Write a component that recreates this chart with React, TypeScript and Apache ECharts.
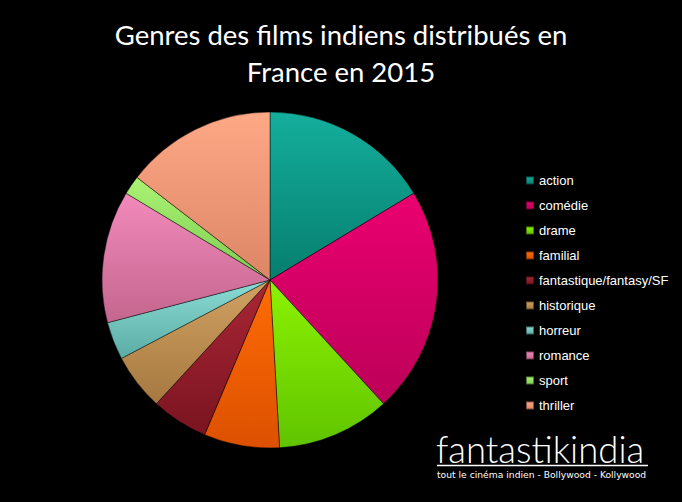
import React, { useEffect, useRef } from "react";
import * as echarts from "echarts";

const categories = [
  "action",
  "comédie",
  "drame",
  "familial",
  "fantastique/fantasy/SF",
  "historique",
  "horreur",
  "romance",
  "sport",
  "thriller",
];
const filmCounts = [9, 12, 6, 4, 3, 3, 2, 7, 1, 8];
const topColors = ["#14ae9c", "#ea0070", "#8cf200", "#ff6c06", "#aa2636", "#d2a262", "#8cdcd6", "#f28abb", "#aaf274", "#ffa886"];
const bottomColors = ["#067e6e", "#bc0058", "#60c400", "#dc5000", "#7a1420", "#a47840", "#5cacA6", "#c4668e", "#7ccc50", "#dc8666"];

const titleText = "Genres des films indiens distribués en\nFrance en 2015";

export default function App() {
  const ref = useRef<HTMLDivElement>(null);
  useEffect(() => {
    document.body.style.margin = "0";
    document.body.style.background = "#000";
    const chart = echarts.init(ref.current!, null, { renderer: "svg" });
    const data = categories.map((name, i) => ({
      name,
      value: filmCounts[i],
      itemStyle: {
        color: new echarts.graphic.LinearGradient(0, 0, 0, 1, [
          { offset: 0, color: topColors[i] },
          { offset: 1, color: bottomColors[i] },
        ]),
      },
    }));
    chart.setOption({
      animation: false,
      backgroundColor: "#000",
      title: {
        text: titleText,
        left: "center",
        top: 16,
        padding: 0,
        textStyle: {
          color: "#fff",
          fontFamily: "Lato",
          fontWeight: "normal",
          fontSize: 27.5,
          lineHeight: 37,
        },
      },
      legend: {
        orient: "vertical",
        left: 525,
        top: 173,
        padding: 0,
        icon: "rect",
        itemWidth: 8,
        itemHeight: 8,
        itemGap: 10,
        textStyle: {
          color: "#fff",
          fontFamily: "Liberation Sans",
          fontSize: 13,
          lineHeight: 15,
        },
        data: categories,
      },
      series: [
        {
          type: "pie",
          center: [270, 280],
          radius: 168,
          startAngle: 90,
          clockwise: true,
          label: { show: false },
          labelLine: { show: false },
          emphasis: { disabled: true },
          itemStyle: { borderColor: "rgba(0,0,0,0.45)", borderWidth: 1 },
          data,
        },
      ],
      graphic: [
        {
          type: "text",
          left: 436,
          top: 430,
          style: {
            text: "fantastikindia",
            fill: "#fff",
            fontFamily: "Lato",
            fontSize: 36.5,
            fontWeight: 300,
          },
        },
        {
          type: "line",
          shape: { x1: 437, y1: 465.5, x2: 648, y2: 465.5 },
          style: { stroke: "#fff", lineWidth: 1.5 },
        },
        {
          type: "text",
          left: 437,
          top: 470,
          style: {
            text: "tout le cinéma indien - Bollywood - Kollywood",
            fill: "#fff",
            fontFamily: "DejaVu Sans",
            fontSize: 9.2,
          },
        },
      ],
    });
    return () => chart.dispose();
  }, []);
  return (
    <div
      ref={ref}
      style={{ position: "fixed", left: 0, top: 0, width: 682, height: 502, background: "#000" }}
    />
  );
}
